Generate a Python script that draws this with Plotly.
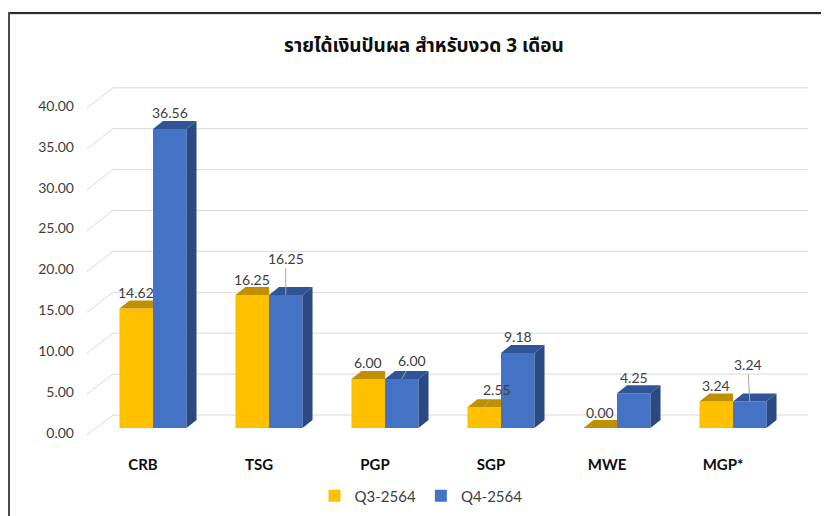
import plotly.graph_objects as go

# ---------------- data ----------------
categories = ["CRB", "TSG", "PGP", "SGP", "MWE", "MGP*"]
q3_values = [14.62, 16.25, 6.00, 2.55, 0.00, 3.24]
q4_values = [36.56, 16.25, 6.00, 9.18, 4.25, 3.24]
series_names = ["Q3-2564", "Q4-2564"]
y_ticks = [0, 5, 10, 15, 20, 25, 30, 35, 40]
title_text = "รายได้เงินปันผล สำหรับงวด 3 เดือน"

# ---------------- geometry / style ----------------
OFF = 8                 # page body margin of the browser
SCR_W, SCR_H = 829, 516
W, H = SCR_W - OFF, SCR_H - OFF

def fx(px):             # screen pixel -> figure pixel
    return px - OFF

PLOT_L, PLOT_R, PLOT_T, PLOT_B = fx(80), fx(815), fx(70), fx(448)
PX_CAT = 116.0          # pixels per category
FIRST_EDGE = fx(95)     # bar-plane left edge
ZERO_PX = fx(428)       # value 0 on bar plane
PX_UNIT = 8.18          # pixels per value unit

def dxd(px):
    return px / PX_CAT

def dyd(px):
    return px / PX_UNIT

x_lo = -0.5 - dxd(FIRST_EDGE - PLOT_L)
x_hi = x_lo + dxd(PLOT_R - PLOT_L)
y_lo = -dyd(PLOT_B - ZERO_PX)
y_hi = dyd(ZERO_PX - PLOT_T)

BARGAP = 0.422
bw = (1 - BARGAP) / 2
DEPTH_X = dxd(10)
DEPTH_Y = dyd(8)

YEL, YEL_TOP = "#FFC000", "#BF9000"
BLU, BLU_TOP, BLU_SIDE = "#4472C4", "#2F5597", "#2B4A84"
TXT = "#404040"
NUM_FONT = "Lato, Carlito, Calibri, sans-serif"

idx = list(range(len(categories)))

fig = go.Figure()

# front faces (real bars)
fig.add_trace(go.Bar(x=idx, y=q3_values, name=series_names[0], marker=dict(color=YEL, line=dict(width=0)),
                     hoverinfo="skip"))
fig.add_trace(go.Bar(x=idx, y=q4_values, name=series_names[1], marker=dict(color=BLU, line=dict(width=0)),
                     hoverinfo="skip"))

# pseudo-3D faces built from the data
def poly(pts, xs, ys):
    for px, py in pts:
        xs.append(px)
        ys.append(py)
    xs.append(pts[0][0]); ys.append(pts[0][1])
    xs.append(None); ys.append(None)

yt_x, yt_y = [], []
bt_x, bt_y = [], []
bs_x, bs_y = [], []
for i, (a, b) in zip(idx, zip(q3_values, q4_values)):
    if b >= a:
        poly([(i - bw, a), (i, a), (i, a + DEPTH_Y), (i - bw + DEPTH_X, a + DEPTH_Y)], yt_x, yt_y)
    else:
        poly([(i - bw, a), (i, a), (i + DEPTH_X, a + DEPTH_Y), (i - bw + DEPTH_X, a + DEPTH_Y)], yt_x, yt_y)
    poly([(i, b), (i + bw, b), (i + bw + DEPTH_X, b + DEPTH_Y), (i + DEPTH_X, b + DEPTH_Y)], bt_x, bt_y)
    poly([(i + bw, 0), (i + bw + DEPTH_X, DEPTH_Y), (i + bw + DEPTH_X, b + DEPTH_Y), (i + bw, b)], bs_x, bs_y)

for xs, ys, col in [(yt_x, yt_y, YEL_TOP), (bt_x, bt_y, BLU_TOP), (bs_x, bs_y, BLU_SIDE)]:
    fig.add_trace(go.Scatter(x=xs, y=ys, mode="lines", fill="toself", fillcolor=col,
                             line=dict(width=0, color=col), hoverinfo="skip", showlegend=False))

# gridlines: diagonal on left wall + horizontal on back wall
GRID = "#D9D9D9"
x_front = -0.5 - dxd(95 - 87)
x_back = -0.5 + dxd(113 - 95)
x_right = -0.5 + dxd(808 - 95)
front_dy = dyd(7)
back_dy = dyd(13)
shapes = []
for v in y_ticks:
    shapes.append(dict(type="line", xref="x", yref="y", x0=x_front, y0=v - front_dy, x1=x_back, y1=v + back_dy,
                       line=dict(color=GRID, width=1), layer="below"))
    shapes.append(dict(type="line", xref="x", yref="y", x0=x_back, y0=v + back_dy, x1=x_right, y1=v + back_dy,
                       line=dict(color=GRID, width=1), layer="below"))

def paper_x(px):        # figure pixel -> paper
    return (px - PLOT_L) / (PLOT_R - PLOT_L)

def paper_y(py):
    return (PLOT_B - py) / (PLOT_B - PLOT_T)

# chart border (top and left)
shapes.append(dict(type="line", xref="paper", yref="paper", x0=paper_x(1), y0=paper_y(5),
                   x1=paper_x(W + 2), y1=paper_y(5), line=dict(color="#2B2B2B", width=2)))
shapes.append(dict(type="line", xref="paper", yref="paper", x0=paper_x(W + 2), y0=paper_y(6.5),
                   x1=paper_x(1), y1=paper_y(6.5), line=dict(color="#E0E0E0", width=1)))
shapes.append(dict(type="line", xref="paper", yref="paper", x0=paper_x(1), y0=paper_y(4),
                   x1=paper_x(1), y1=paper_y(H + 2), line=dict(color="#4A4A4A", width=2)))

# data labels
leader = {  # (series, category index): (ax, ay) pixel offsets
    (1, 1): (0, -37),
    (1, 2): (10, -18),
    (0, 3): (13, -18),
    (1, 5): (-2, -37),
}
annotations = []
for s, vals in enumerate([q3_values, q4_values]):
    for i, v in zip(idx, vals):
        xc = i - bw / 2 if s == 0 else i + bw / 2
        txt = f"{v:.2f}"
        font = dict(family=NUM_FONT, size=14, color=TXT)
        if (s, i) in leader:
            ax, ay = leader[(s, i)]
            annotations.append(dict(x=xc, y=v, xref="x", yref="y", text=txt, showarrow=True, ax=ax, ay=ay,
                                    arrowhead=0, arrowwidth=1, arrowcolor="#A6A6A6", standoff=0,
                                    font=font))
        else:
            annotations.append(dict(x=xc, y=v, xref="x", yref="y", text=txt, showarrow=False, yshift=16,
                                    font=font))

fig.update_layout(
    width=W, height=H,
    margin=dict(l=PLOT_L, r=W - PLOT_R, t=PLOT_T, b=H - PLOT_B, autoexpand=False),
    paper_bgcolor="white", plot_bgcolor="white",
    barmode="group", bargap=BARGAP, bargroupgap=0,
    title=dict(text=f"<b>{title_text}</b>", x=fx(424) / W, xanchor="center", y=1 - fx(45) / H,
               yanchor="middle",
               font=dict(family="Tahoma, Noto Sans Thai, Noto Sans, sans-serif", size=19, color="#0D0D0D")),
    showlegend=True,
    legend=dict(orientation="h", x=paper_x(fx(421)), xanchor="center", y=paper_y(fx(496)), yanchor="middle",
                font=dict(family=NUM_FONT, size=15, color=TXT), itemwidth=30, traceorder="normal"),
    shapes=shapes,
    annotations=annotations,
    xaxis=dict(range=[x_lo, x_hi], tickmode="array", tickvals=idx, ticktext=[f"<b>{c}</b>" for c in categories],
               showgrid=False, zeroline=False, showline=False, ticks="", ticklabelshift=-10, ticklabelstandoff=6,
               tickfont=dict(family=NUM_FONT, size=15, color="#0D0D0D"), automargin=False, fixedrange=True),
    yaxis=dict(range=[y_lo, y_hi], tickmode="array", tickvals=y_ticks, ticktext=[f"{v:.2f}" for v in y_ticks],
               showgrid=False, zeroline=False, showline=False, ticks="", ticklabelshift=5, ticklabelstandoff=5,
               tickfont=dict(family=NUM_FONT, size=14, color=TXT), automargin=False, fixedrange=True),
)

fig.write_html("out.html")
